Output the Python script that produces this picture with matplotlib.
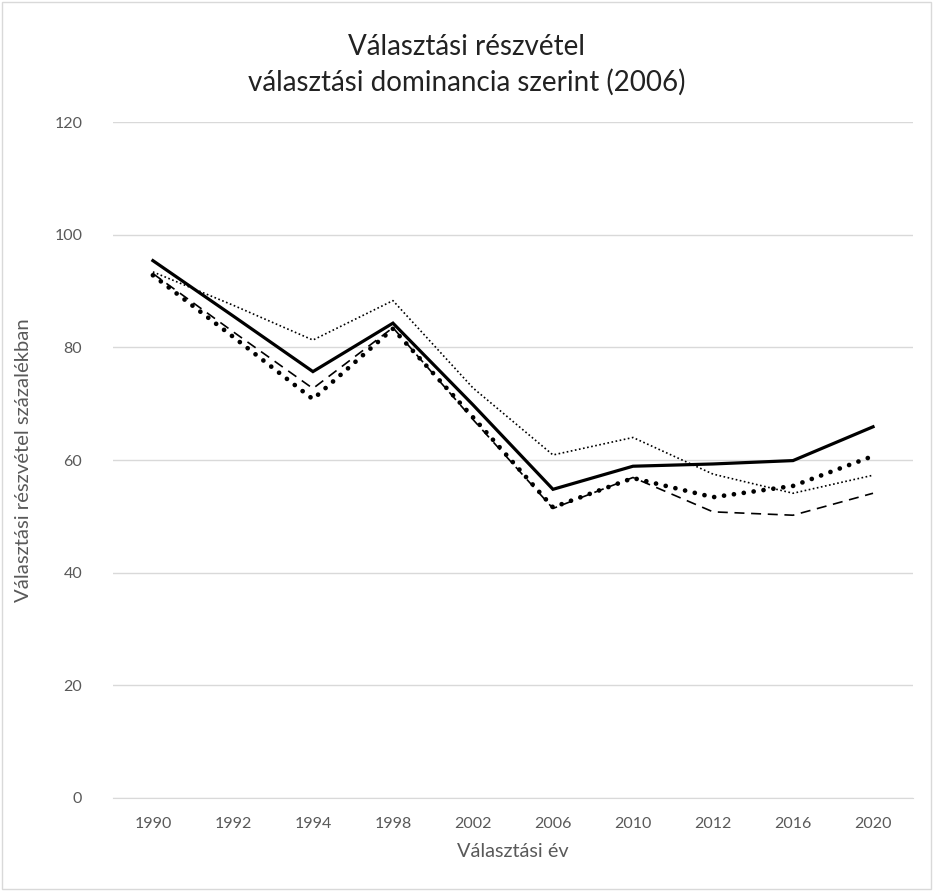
import matplotlib
matplotlib.use("Agg")
import matplotlib.pyplot as plt
import numpy as np

plt.rcParams['font.family'] = ['Lato', 'DejaVu Sans']

years = ["1990", "1992", "1994", "1998", "2002", "2006", "2010", "2012", "2016", "2020"]
solid = [95.4, 85.6, 75.7, 84.3, 69.8, 54.8, 58.9, 59.3, 59.9, 65.9]
thin_dotted = [93.4, 87.5, 81.3, 88.3, 72.8, 60.9, 64.0, 57.5, 54.1, 57.3]
dashed = [93.1, 82.8, 72.7, 83.5, 67.2, 51.4, 56.9, 50.8, 50.2, 54.1]
round_dots = [92.8, 81.9, 70.8, 83.3, 67.6, 51.6, 56.8, 53.4, 55.4, 60.7]

title = "Választási részvétel\nválasztási dominancia szerint (2006)"
xlabel = "Választási év"
ylabel = "Választási részvétel százalékban"


def main():
    fig = plt.figure(figsize=(9.33, 8.91), dpi=100)
    ax = fig.add_axes([0.121, 0.1044, 0.8576, 0.7586])
    x = np.arange(len(years))

    ax.plot(x, thin_dotted, color="black", lw=1.2, linestyle=(0, (1, 1.5)))
    ax.plot(x, dashed, color="black", lw=1.2, linestyle=(0, (6, 4)))
    ax.plot(x, round_dots, color="black", lw=3.4, linestyle=(0, (0.01, 2.1)),
            dash_capstyle="round")
    ax.plot(x, solid, color="black", lw=2.3, solid_joinstyle="miter")

    ax.set_xlim(-0.5, len(years) - 0.5)
    ax.set_ylim(0, 120)
    ax.set_yticks(range(0, 121, 20))
    ax.set_xticks(x)
    ax.set_xticklabels(years)
    ax.grid(axis="y", color="#d9d9d9", lw=1)
    ax.set_axisbelow(True)
    for s in ["top", "right", "left"]:
        ax.spines[s].set_visible(False)
    ax.spines["bottom"].set_color("#d9d9d9")
    ax.tick_params(length=0, colors="#595959", labelsize=11.5, pad=14)
    ax.tick_params(axis="y", pad=22)

    ax.set_xlabel(xlabel, fontsize=14.3, color="#595959", labelpad=8)
    ax.set_ylabel(ylabel, fontsize=14.6, color="#595959", labelpad=16)
    fig.text(0.5, 0.962, title, ha="center", va="top", fontsize=20,
             color="#222222", linespacing=1.4)

    border = plt.Rectangle((0.002, 0.002), 0.996, 0.996, transform=fig.transFigure,
                           fill=False, edgecolor="#d9d9d9", lw=1)
    fig.patches.append(border)

    fig.savefig("out.png", dpi=100)


if __name__ == "__main__":
    main()
